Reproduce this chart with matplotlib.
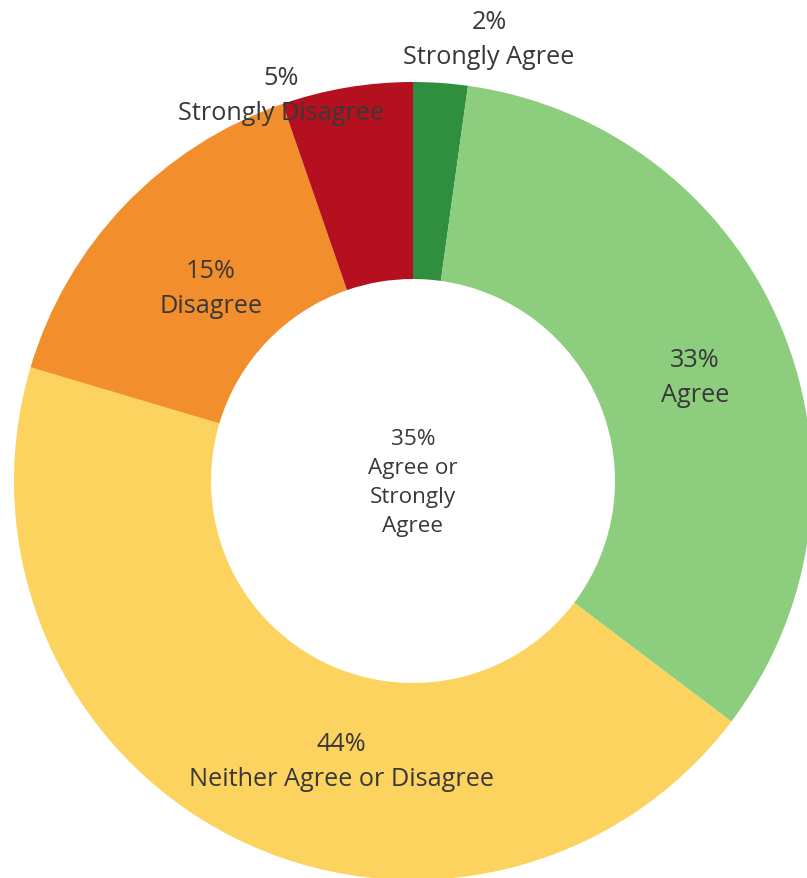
import matplotlib
matplotlib.use("Agg")
import matplotlib.pyplot as plt

# Survey response shares (percent), clockwise from the top
categories = ["Strongly Agree", "Agree", "Neither Agree or Disagree", "Disagree", "Strongly Disagree"]
shares = [2.2, 33.1, 44.3, 15.1, 5.3]
colors = ["#2f8f3f", "#8ccd7e", "#fdd35f", "#f28e2b", "#b5101f"]

# label anchor points in pixel space (x, y from top)
label_pos = [(489, 40), (695, 378), (341, 762), (211, 289), (281, 96)]
center_lines = ["Agree or", "Strongly", "Agree"]

W, H = 807, 879
CX, CY = 413, 482
R_OUT, R_IN = 399, 202

fig = plt.figure(figsize=(W / 100, H / 100), dpi=100)
ax = fig.add_axes([0, 0, 1, 1])
ax.set_xlim(0, W)
ax.set_ylim(0, H)
ax.set_aspect("equal")
ax.axis("off")

ax.pie(shares, colors=colors, startangle=90, counterclock=False,
       center=(CX, H - CY), radius=R_OUT,
       wedgeprops=dict(width=R_OUT - R_IN, linewidth=0))
ax.set_xlim(0, W)
ax.set_ylim(0, H)

font = "Open Sans"
for name, val, (x, y) in zip(categories, shares, label_pos):
    ax.text(x, H - y, f"{round(val)}%\n{name}", ha="center", va="center",
            fontsize=18.2, color="#383838", family=font, linespacing=1.5)

agree_total = shares[0] + shares[1]
ax.text(CX, H - 483, f"{round(agree_total)}%\n" + "\n".join(center_lines),
        ha="center", va="center", fontsize=16.2, color="#383838",
        family=font, linespacing=1.5)

fig.savefig("out.png", dpi=100)
